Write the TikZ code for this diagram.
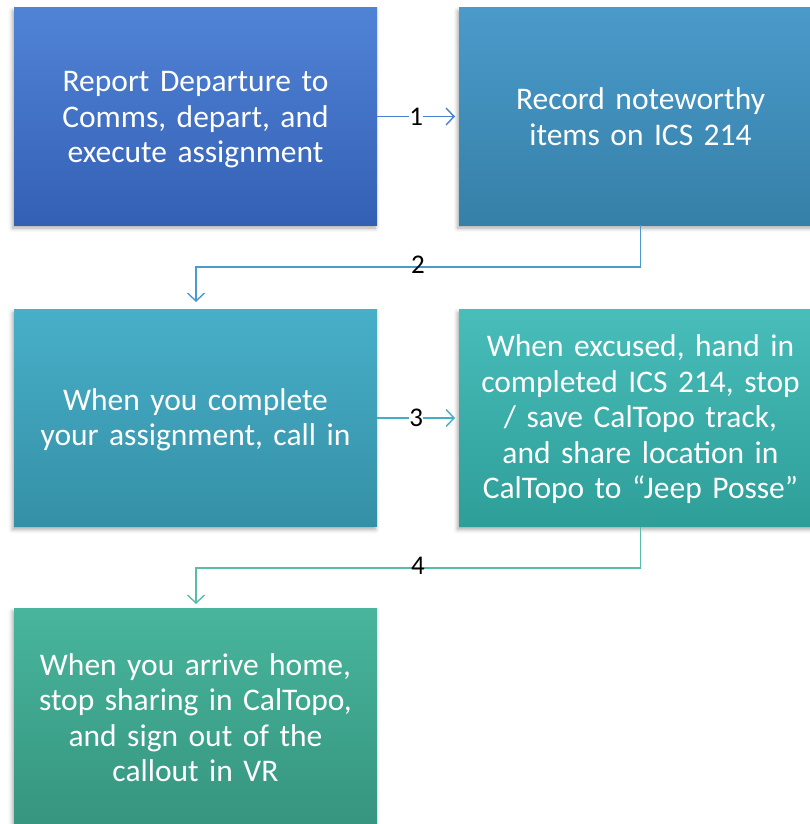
\documentclass[tikz,border=0pt]{standalone}
\usepackage{fontspec}
\setmainfont{Carlito}
\usetikzlibrary{arrows.meta,shadows.blur}
\definecolor{bAt}{HTML}{5083D6}\definecolor{bAb}{HTML}{3460B4}
\definecolor{bBt}{HTML}{4A9ACA}\definecolor{bBb}{HTML}{3580A8}
\definecolor{bCt}{HTML}{48AFC9}\definecolor{bCb}{HTML}{3490A6}
\definecolor{bDt}{HTML}{48BDBA}\definecolor{bDb}{HTML}{2E9E98}
\definecolor{bEt}{HTML}{48B59C}\definecolor{bEb}{HTML}{36957F}
\definecolor{lA}{HTML}{4A7FD0}\definecolor{lB}{HTML}{4A9ACA}
\definecolor{lC}{HTML}{45AEC4}\definecolor{lD}{HTML}{5ABBA6}
\tikzset{
  stepbox/.style={minimum width=363pt, minimum height=217pt, inner sep=0pt,
    blur shadow={shadow xshift=-1.5pt, shadow yshift=-3pt, shadow blur radius=4pt, shadow opacity=35}},
  steptext/.style={inner sep=0pt, text width=350pt, align=center, text=white,
    font=\fontsize{31.5pt}{35.5pt}\selectfont},
  conn/.style={line width=1.4pt, -{Straight Barb[length=8pt,width=17pt,line width=1.4pt]}},
  numlbl/.style={fill=white, inner sep=0.5pt, text=black, font=\fontsize{27pt}{29pt}\selectfont}
}
\begin{document}
\begin{tikzpicture}[x=1pt,y=-1pt]
\useasboundingbox (0,0) rectangle (810,824);
\node[stepbox, top color=bAt, bottom color=bAb] (a) at (195.5,116.5) {};
\node[stepbox, top color=bBt, bottom color=bBb] (b) at (640.5,116.5) {};
\node[stepbox, top color=bCt, bottom color=bCb] (c) at (195.5,418) {};
\node[stepbox, top color=bDt, bottom color=bDb] (d) at (640.5,418) {};
\node[stepbox, top color=bEt, bottom color=bEb] (e) at (195.5,717) {};
\node[steptext] (at) at (195.5,120) {Report Departure to\\Comms, depart, and\\execute assignment};
\node[steptext] (bt) at (640.5,116.5) {Record noteworthy\\items on ICS 214};
\node[steptext] (ct) at (195.5,420) {When you complete\\your assignment, call in};
\node[steptext] (dt) at (640.5,419.5) {When excused, hand in\\completed ICS 214, stop\\/ save CalTopo track,\\and share location in\\CalTopo to “Jeep Posse”};
\node[steptext] (et) at (195.5,717.5) {When you arrive home,\\stop sharing in CalTopo,\\and sign out of the\\callout in VR};
\coordinate (t1) at (455,116.5);
\coordinate (t2) at (196,302);
\coordinate (t3) at (455,418);
\coordinate (t4) at (196,604);
\draw[conn, draw=lA] (a.east) -- node[numlbl]{1} (t1);
\draw[conn, draw=lB] (b.south) |- (418,267) -| (t2);
\draw[conn, draw=lC] (c.east) -- node[numlbl]{3} (t3);
\draw[conn, draw=lD] (d.south) |- (418,568) -| (t4);
\node[numlbl, fill=none] (n2) at (418,265) {2};
\node[numlbl, fill=none] (n4) at (418,566) {4};
\end{tikzpicture}
\end{document}
